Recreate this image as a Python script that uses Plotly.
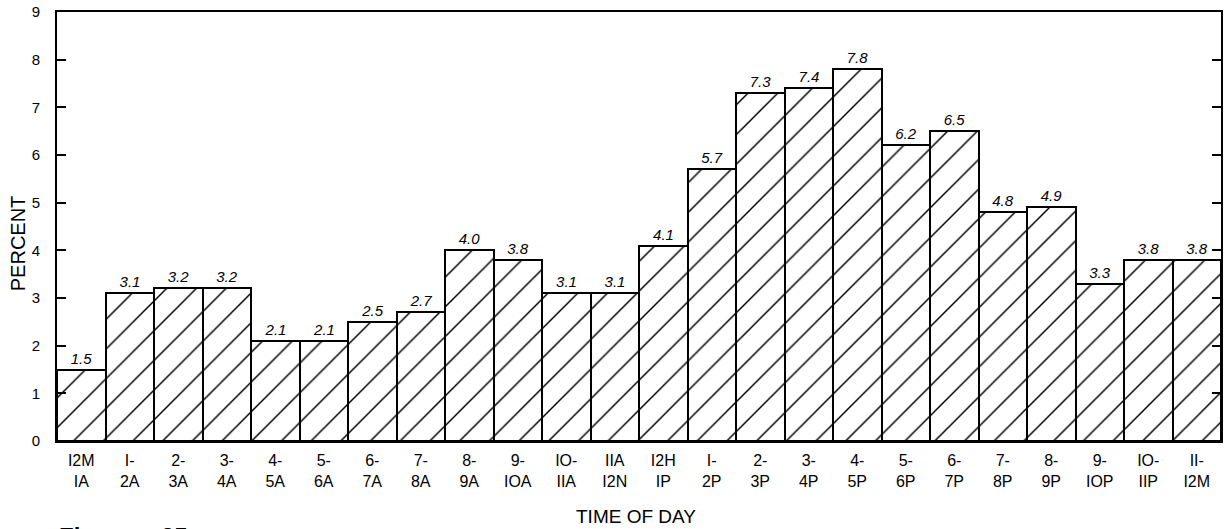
import plotly.graph_objects as go

time_labels = [
    "I2M<br>IA", "I-<br>2A", "2-<br>3A", "3-<br>4A", "4-<br>5A", "5-<br>6A",
    "6-<br>7A", "7-<br>8A", "8-<br>9A", "9-<br>IOA", "IO-<br>IIA", "IIA<br>I2N",
    "I2H<br>IP", "I-<br>2P", "2-<br>3P", "3-<br>4P", "4-<br>5P", "5-<br>6P",
    "6-<br>7P", "7-<br>8P", "8-<br>9P", "9-<br>IOP", "IO-<br>IIP", "II-<br>I2M",
]
percent = [1.5, 3.1, 3.2, 3.2, 2.1, 2.1, 2.5, 2.7, 4.0, 3.8, 3.1, 3.1,
           4.1, 5.7, 7.3, 7.4, 7.8, 6.2, 6.5, 4.8, 4.9, 3.3, 3.8, 3.8]
value_labels = ["1.5", "3.1", "3.2", "3.2", "2.1", "2.1", "2.5", "2.7", "4.0", "3.8", "3.1", "3.1",
                "4.1", "5.7", "7.3", "7.4", "7.8", "6.2", "6.5", "4.8", "4.9", "3.3", "3.8", "3.8"]
y_ticks = [0, 1, 2, 3, 4, 5, 6, 7, 8, 9]

x_pos = list(range(len(percent)))
FONT = "Liberation Sans"

fig = go.Figure()
fig.add_trace(go.Bar(
    x=x_pos,
    y=percent,
    width=1.0,
    marker=dict(
        color="white",
        line=dict(color="black", width=2),
        pattern=dict(shape="/", fgcolor="black", bgcolor="white", fgopacity=1,
                     size=21, solidity=0.07, fillmode="overlay"),
    ),
    text=value_labels,
    textposition="outside",
    textfont=dict(family=FONT, size=15, color="black", style="italic"),
    constraintext="none",
    cliponaxis=False,
    hoverinfo="skip",
))

fig.update_layout(
    width=1225,
    height=529,
    margin=dict(l=57, r=2, t=12, b=88),
    paper_bgcolor="white",
    plot_bgcolor="white",
    showlegend=False,
    bargap=0,
    font=dict(family=FONT, color="black"),
    xaxis=dict(
        range=[-0.5, 23.5],
        tickvals=x_pos,
        ticktext=time_labels,
        tickfont=dict(family=FONT, size=16, color="black"),
        ticks="",
        showgrid=False,
        zeroline=False,
        showline=True,
        linecolor="black",
        linewidth=2,
        mirror=True,
        ticklabelstandoff=4,
    ),
    yaxis=dict(
        range=[0, 9],
        tickvals=y_ticks,
        tickfont=dict(family=FONT, size=15, color="black"),
        ticks="inside",
        ticklen=9,
        tickwidth=1.5,
        tickcolor="black",
        showgrid=False,
        zeroline=False,
        showline=True,
        linecolor="black",
        linewidth=2,
        mirror="ticks",
        ticklabelstandoff=12,
    ),
    annotations=[
        dict(text="PERCENT", xref="paper", yref="paper", x=-0.034, y=0.462,
             xanchor="center", yanchor="middle", textangle=-90, showarrow=False,
             font=dict(family=FONT, size=20, color="black")),
        dict(text="TIME OF DAY", xref="paper", yref="paper", x=0.497, y=-0.146,
             xanchor="center", yanchor="top", showarrow=False,
             font=dict(family=FONT, size=19, color="black")),
        dict(text="<b>Figure</b>", xref="paper", yref="paper", x=0.0, y=-0.187,
             xanchor="left", yanchor="top", showarrow=False,
             font=dict(family=FONT, size=24, color="black")),
        dict(text="<b>25</b>", xref="paper", yref="paper", x=0.0875, y=-0.187,
             xanchor="left", yanchor="top", showarrow=False,
             font=dict(family=FONT, size=24, color="black")),
    ],
)

fig.write_html(
    "out.html",
    config={"displayModeBar": False},
    post_script="document.body.style.margin='0';document.body.style.overflow='hidden';",
)
